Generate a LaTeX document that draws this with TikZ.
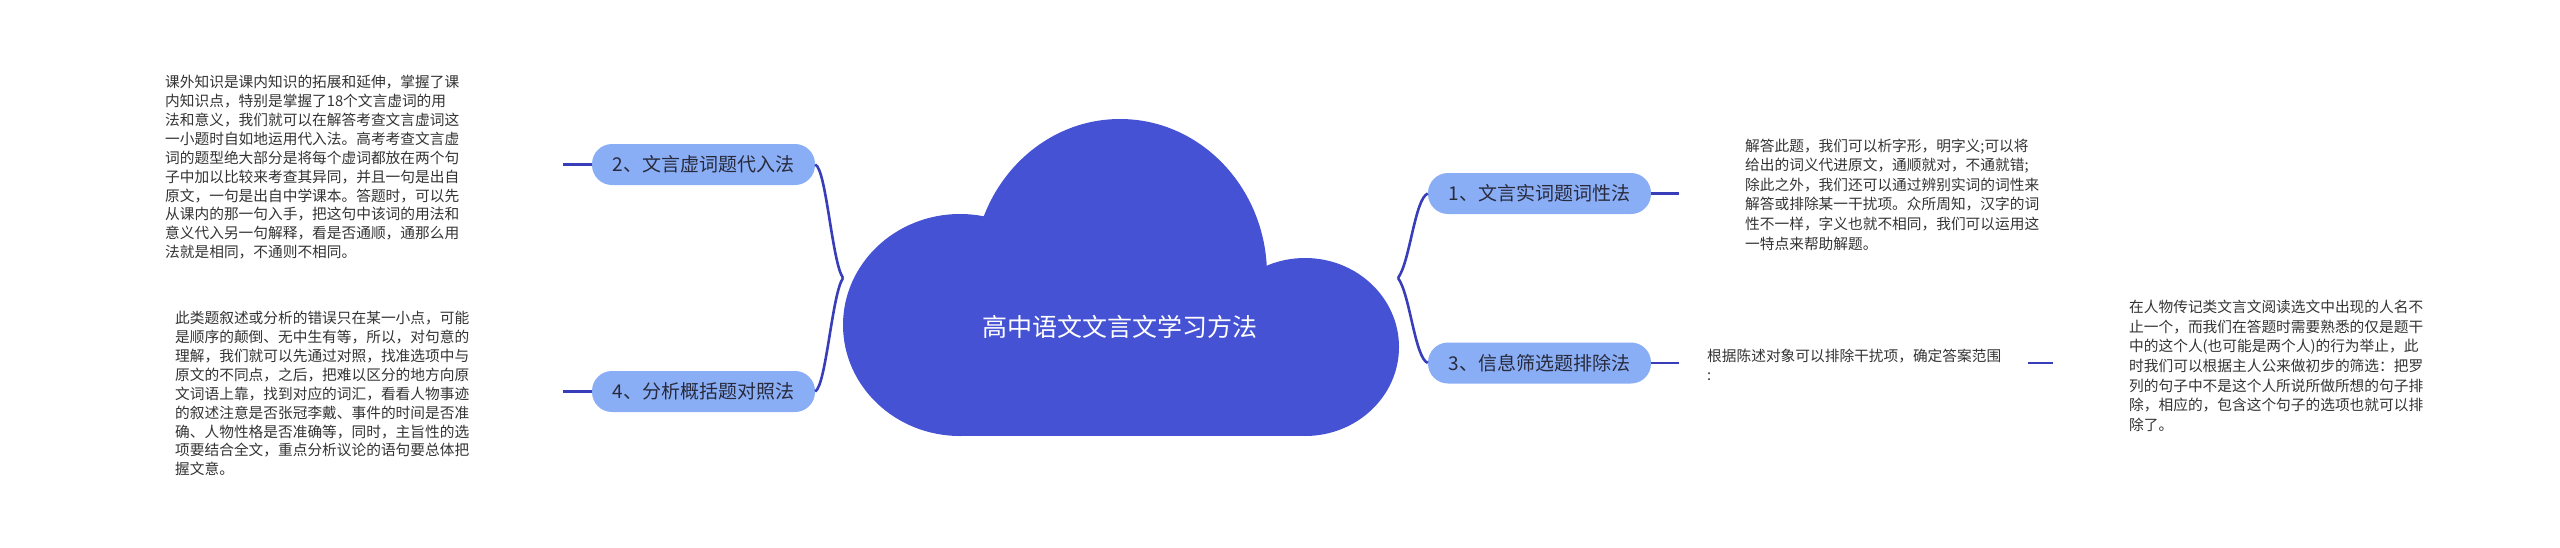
\documentclass[tikz,border=0pt]{standalone}
\usepackage{fontspec}
\setmainfont{Noto Sans CJK SC}
\definecolor{cloudc}{RGB}{69,82,212}
\definecolor{topicc}{RGB}{138,174,245}
\definecolor{linec}{RGB}{56,62,186}
\definecolor{descc}{RGB}{51,51,51}
\definecolor{topictext}{RGB}{40,42,60}
\begin{document}
\begin{tikzpicture}[x=1pt,y=-1pt,
  topic/.style={draw=none,fill=topicc,rounded corners=20pt,minimum width=223pt,minimum height=41pt,inner sep=0pt,text=topictext,font=\fontsize{19}{22}\selectfont},
  conn/.style={draw=linec,line width=2.6pt},
  descl/.style={anchor=north west,align=left,inner sep=0pt,text=descc,font=\fontsize{14.7}{18.9}\selectfont},
  descr/.style={anchor=north west,align=left,inner sep=0pt,text=descc,font=\fontsize{14.7}{19.6}\selectfont},
  roottext/.style={text=white,inner sep=0pt,font=\fontsize{25}{28}\selectfont}]
\useasboundingbox (0,0) rectangle (2560,547);
% cloud
\fill[cloudc] (960,325) ellipse [x radius=117pt, y radius=111pt];
\fill[cloudc] (1120,275) ellipse [x radius=147pt, y radius=156pt];
\fill[cloudc] (1305,347) ellipse [x radius=94pt, y radius=89pt];
\fill[cloudc] (960,325) rectangle (1305,436);
\node[roottext] (root) at (1120,327) {高中语文文言文学习方法};
% topics
\node[topic] (t2) at (703.5,164.5) {2、文言虚词题代入法};
\node[topic] (t4) at (703.5,391.5) {4、分析概括题对照法};
\node[topic] (t1) at (1539.5,193.5) {1、文言实词题词性法};
\node[topic] (t3) at (1539.5,363) {3、信息筛选题排除法};
\coordinate (ltip) at (843,278);
\coordinate (rtip) at (1398,278);
\draw[conn] (t2.east) .. controls +(11,4) and +(-11,-16) .. (ltip);
\draw[conn] (ltip) .. controls +(-11,16) and +(11,-6) .. (t4.east);
\draw[conn] (rtip) .. controls +(12,-16) and +(-13,5) .. (t1.west);
\draw[conn] (rtip) .. controls +(12,16) and +(-13,-5) .. (t3.west);
% short connectors
\coordinate (e2) at (563,164.5);
\coordinate (e4) at (563,391.5);
\coordinate (e1) at (1679,193.5);
\coordinate (e3) at (1679,363);
\coordinate (f1) at (2028,363);
\coordinate (f2) at (2053,363);
\draw[conn] (t2.west) -- (e2);
\draw[conn] (t4.west) -- (e4);
\draw[conn] (t1.east) -- (e1);
\draw[conn] (t3.east) -- (e3);
\draw[conn] (f1) -- (f2);
% descriptions
\node[descl] (d2) at (165,75) {课外知识是课内知识的拓展和延伸，掌握了课\\内知识点，特别是掌握了18个文言虚词的用\\法和意义，我们就可以在解答考查文言虚词这\\一小题时自如地运用代入法。高考考查文言虚\\词的题型绝大部分是将每个虚词都放在两个句\\子中加以比较来考查其异同，并且一句是出自\\原文，一句是出自中学课本。答题时，可以先\\从课内的那一句入手，把这句中该词的用法和\\意义代入另一句解释，看是否通顺，通那么用\\法就是相同，不通则不相同。};
\node[descl] (d4) at (175,311) {此类题叙述或分析的错误只在某一小点，可能\\是顺序的颠倒、无中生有等，所以，对句意的\\理解，我们就可以先通过对照，找准选项中与\\原文的不同点，之后，把难以区分的地方向原\\文词语上靠，找到对应的词汇，看看人物事迹\\的叙述注意是否张冠李戴、事件的时间是否准\\确、人物性格是否准确等，同时，主旨性的选\\项要结合全文，重点分析议论的语句要总体把\\握文意。};
\node[descr] (d1) at (1745,138.4) {解答此题，我们可以析字形，明字义;可以将\\给出的词义代进原文，通顺就对，不通就错;\\除此之外，我们还可以通过辨别实词的词性来\\解答或排除某一干扰项。众所周知，汉字的词\\性不一样，字义也就不相同，我们可以运用这\\一特点来帮助解题。};
\node[descr] (d3) at (1707,348.4) {根据陈述对象可以排除干扰项，确定答案范围\\:};
\node[descr] (d3b) at (2129,300) {在人物传记类文言文阅读选文中出现的人名不\\止一个，而我们在答题时需要熟悉的仅是题干\\中的这个人(也可能是两个人)的行为举止，此\\时我们可以根据主人公来做初步的筛选：把罗\\列的句子中不是这个人所说所做所想的句子排\\除，相应的，包含这个句子的选项也就可以排\\除了。};
\end{tikzpicture}
\end{document}
